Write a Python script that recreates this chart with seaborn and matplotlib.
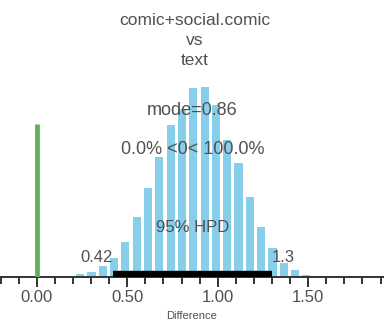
import numpy as np
import pandas as pd
import matplotlib
matplotlib.use("Agg")
import matplotlib.pyplot as plt
import seaborn as sns
from matplotlib.ticker import MultipleLocator, FixedLocator, FixedFormatter

# Posterior of the difference (binned sample counts)
bin_centers = [0.24, 0.30, 0.36, 0.42, 0.49, 0.55, 0.61, 0.67, 0.74, 0.80, 0.86,
               0.92, 0.99, 1.05, 1.11, 1.17, 1.24, 1.30, 1.36, 1.42, 1.49]
bin_counts = [3, 5, 11, 19, 35, 60, 89, 120, 152, 168, 189,
              190, 172, 137, 114, 80, 50, 29, 14, 7, 2]

comp_value = 0.0
comp_height = 153
mode_value = 0.86
pct_below, pct_above = 0.0, 100.0
hpd_low, hpd_high = 0.42, 1.3
title_lines = ["comic+social.comic", "vs", "text"]
major_ticks = [0.0, 0.5, 1.0, 1.5]
major_labels = ["0.00", "0.50", "1.00", "1.50"]
x_label = "Difference"

sns.set_theme(style="white")
plt.rcParams["font.family"] = ["Liberation Sans", "DejaVu Sans"]
text_color = "#505050"

df = pd.DataFrame({"diff": bin_centers, "count": bin_counts})
centers = np.asarray(bin_centers)
width = float(np.diff(centers).mean())
lo, hi = float(centers[0] - width / 2), float(centers[-1] + width / 2)

fig = plt.figure(figsize=(3.84, 3.30), dpi=100)
ax = fig.add_axes([0.0, 53 / 330, 1.0, 190 / 330])

sns.histplot(data=df, x="diff", weights="count", binwidth=width,
             binrange=(lo, hi), shrink=0.72,
             color="#87CEEB", edgecolor="none", linewidth=0, alpha=1.0, ax=ax)

# comparison value line
ax.plot([comp_value, comp_value], [0, comp_height], color="#5FAF55",
        lw=3.4, solid_capstyle="butt", zorder=3)

# 95% HPD bar and its end labels
ax.plot([hpd_low, hpd_high], [3.5, 3.5], color="black", lw=4.6,
        solid_capstyle="butt", zorder=4)
ax.text(hpd_low, 20, f"{hpd_low:g}", ha="right", va="center",
        fontsize=12, color=text_color)
ax.text(hpd_high, 20, f"{hpd_high:g}", ha="left", va="center",
        fontsize=12, color=text_color)
ax.text(mode_value, 49, "95% HPD", ha="center", va="center",
        fontsize=12, color=text_color)

ax.text(mode_value, 166, f"mode={mode_value:g}", ha="center", va="center",
        fontsize=13, color=text_color)
ax.text(mode_value, 127, f"{pct_below:.1f}% <{comp_value:g}< {pct_above:.1f}%",
        ha="center", va="center", fontsize=13, color=text_color)

fig.text(195 / 384, 1 - 13 / 330, "\n".join(title_lines), ha="center", va="top",
         fontsize=12.5, color=text_color, linespacing=1.4)

ax.set_xlim(-0.203, 1.919)
ax.set_ylim(0, 190)
ax.set_ylabel("")
ax.set_yticks([])
for side in ("top", "right", "left"):
    ax.spines[side].set_visible(False)
ax.spines["bottom"].set_color("#333333")
ax.spines["bottom"].set_linewidth(1.4)

ax.xaxis.set_major_locator(FixedLocator(major_ticks))
ax.xaxis.set_major_formatter(FixedFormatter(major_labels))
ax.xaxis.set_minor_locator(MultipleLocator(0.1))
ax.tick_params(axis="x", which="major", bottom=True, length=7.5, width=1.4,
               color="#333333", labelsize=12, labelcolor=text_color, pad=2)
ax.tick_params(axis="x", which="minor", bottom=True, length=5, width=1.4,
               color="#333333")
ax.set_xlabel(x_label, fontsize=8, color=text_color, labelpad=4)

fig.savefig("out.png", dpi=100)
